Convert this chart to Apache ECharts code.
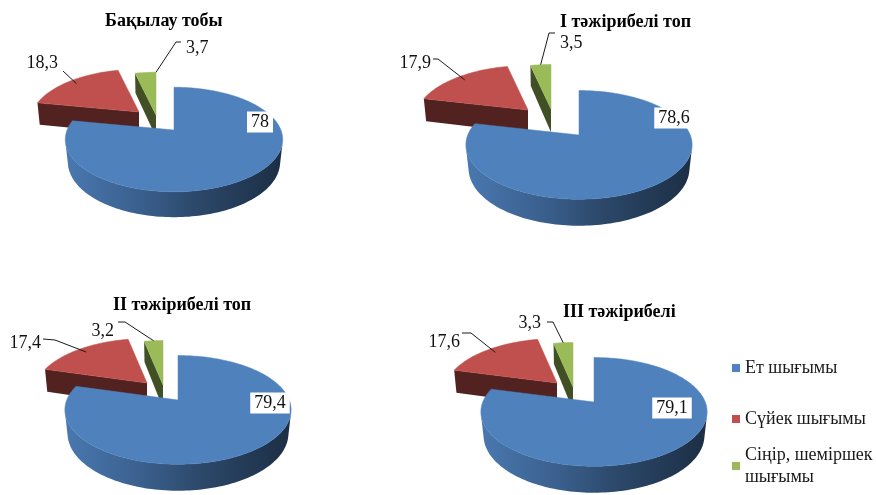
<!DOCTYPE html>
<html>
<head>
<meta charset="utf-8">
<script src="https://cdn.jsdelivr.net/npm/echarts@6/dist/echarts.min.js"></script>
<style>
  html, body { margin: 0; padding: 0; background: #fff; }
  #chart { width: 876px; height: 495px; }
</style>
</head>
<body>
<div id="chart"></div>
<script>
// Carcass composition by group, %
const groups = ['Бақылау тобы', 'І тәжірибелі топ', 'ІІ тәжірибелі топ', 'ІІІ тәжірибелі'];
const categories = ['Ет шығымы', 'Сүйек шығымы', 'Сіңір, шеміршек шығымы'];
const meatYield   = [78, 78.6, 79.4, 79.1];
const boneYield   = [18.3, 17.9, 17.4, 17.6];
const tendonYield = [3.7, 3.5, 3.2, 3.3];
const seriesValues = [meatYield, boneYield, tendonYield];
const colors = ['#4F81BD', '#C0504D', '#9BBB59'];

// Camera for the tilted 3D pies (unit radius disc, perspective projection)
const VIEW = { f: 529, D: 4.85, elev: 28.2 * Math.PI / 180, thick: 0.243 };
const SIN_E = Math.sin(VIEW.elev), COS_E = Math.cos(VIEW.elev);

// Per-pie placement: centre, size, slice shifts (px) and label geometry (px from centre)
const pieLayout = [
  { cx: 174, cy: 130, scale: 0.98, shift: [[0, 0], [-35, -18], [-18, -15]],
    labels: [
      { at: [86, -8], boxed: true },
      { frac: 0.5, r: 0.9, path: [[-111, -59]], at: [-116, -67], align: 'right' },
      { frac: 1.0, r: 1.0, path: [[2, -88], [7, -88]], at: [12, -82], align: 'left' }
    ] },
  { cx: 579, cy: 135, scale: 1.02, shift: [[0, 0], [-51, -25], [-28, -26]],
    labels: [
      { at: [95, -17], boxed: true },
      { frac: 0.5, r: 0.9, path: [[-141, -76], [-146, -76]], at: [-148, -72], align: 'right' },
      { frac: 0.5, r: 1.0, path: [[-30, -102], [-24, -102]], at: [-19, -92], align: 'left' }
    ] },
  { cx: 178, cy: 400, scale: 1.02, shift: [[0, 0], [-31, -17], [-15, -15]],
    labels: [
      { at: [92, 3], boxed: true },
      { frac: 0.5, r: 0.9, path: [[-123, -60], [-135, -61]], at: [-137, -57], align: 'right' },
      { frac: 0.5, r: 1.0, path: [[-53, -78], [-60, -78]], at: [-64, -69], align: 'right' }
    ] },
  { cx: 594, cy: 402, scale: 1.02, shift: [[0, 0], [-37, -19], [-21, -15]],
    labels: [
      { at: [78, 6], boxed: true },
      { frac: 0.5, r: 0.9, path: [[-123, -69], [-132, -69]], at: [-134, -60], align: 'right' },
      { frac: 0.5, r: 1.0, path: [[-41, -80], [-47, -80]], at: [-53, -79], align: 'right' }
    ] }
];

const titlePos = [[105, 12], [560, 13], [113, 296], [563, 303]];

const FONT = "'Liberation Serif', 'Times New Roman', serif";

function shade(hex, k) {
  const n = parseInt(hex.slice(1), 16);
  const r = Math.min(255, Math.round(((n >> 16) & 255) * k));
  const g = Math.min(255, Math.round(((n >> 8) & 255) * k));
  const b = Math.min(255, Math.round((n & 255) * k));
  return 'rgb(' + r + ',' + g + ',' + b + ')';
}

function polyArea(pts) {
  let s = 0;
  for (let i = 0; i < pts.length; i++) {
    const a = pts[i], b = pts[(i + 1) % pts.length];
    s += a[0] * b[1] - b[0] * a[1];
  }
  return s / 2;
}

function fmt(v) { return String(v).replace('.', ','); }

function wallFill(color) {
  return new echarts.graphic.LinearGradient(0, 0, 1, 0, [
    { offset: 0, color: shade(color, 0.93) },
    { offset: 0.35, color: shade(color, 0.74) },
    { offset: 0.6, color: shade(color, 0.56) },
    { offset: 1, color: shade(color, 0.36) }
  ]);
}

function renderSlice(catIndex) {
  return function (params, api) {
    const p = params.dataIndex;
    const L = pieLayout[p];
    const value = api.value(0);
    let before = 0, total = 0;
    for (let k = 0; k < seriesValues.length; k++) {
      total += seriesValues[k][p];
      if (k < catIndex) before += seriesValues[k][p];
    }
    const a0 = before / total * Math.PI * 2;
    const a1 = (before + value) / total * Math.PI * 2;
    const ox = L.shift[catIndex][0], oy = L.shift[catIndex][1];
    const fs = VIEW.f * L.scale;
    const proj = function (r, th, y) {
      const X = r * Math.sin(th), Z = -r * Math.cos(th);
      const d = VIEW.D - (y * SIN_E + Z * COS_E);
      return [L.cx + ox + fs * X / d, L.cy + oy - fs * (y * COS_E - Z * SIN_E) / d];
    };
    const T = -VIEW.thick;
    const color = colors[catIndex];
    const children = [];
    const poly = function (pts, fill) {
      children.push({ type: 'polygon', shape: { points: pts },
        style: { fill: fill, stroke: null } });
    };

    // radial cut faces
    const cutColor = shade(color, 0.42);
    const startFace = [proj(0, 0, 0), proj(1, a0, 0), proj(1, a0, T), proj(0, 0, T)];
    if (polyArea(startFace) < -0.5) poly(startFace, cutColor);
    const endFace = [proj(0, 0, 0), proj(0, 0, T), proj(1, a1, T), proj(1, a1, 0)];
    if (polyArea(endFace) < -0.5) poly(endFace, cutColor);

    // curved outer wall, drawn as one shaded band per visible run
    const n = Math.max(2, Math.ceil((a1 - a0) / (1.5 * Math.PI / 180)));
    let run = null;
    const flush = function () {
      if (run && run.length > 1) {
        const topPts = run.map(function (t) { return proj(1, t, 0); });
        const botPts = run.map(function (t) { return proj(1, t, T); }).reverse();
        poly(topPts.concat(botPts), wallFill(color));
      }
      run = null;
    };
    for (let i = 0; i < n; i++) {
      const t0 = a0 + (a1 - a0) * i / n, t1 = a0 + (a1 - a0) * (i + 1) / n;
      const quad = [proj(1, t0, 0), proj(1, t1, 0), proj(1, t1, T), proj(1, t0, T)];
      if (polyArea(quad) < 0) {
        if (!run) run = [t0];
        run.push(t1);
      } else {
        flush();
      }
    }
    flush();

    // top face
    const top = [proj(0, 0, 0)];
    for (let i = 0; i <= n; i++) top.push(proj(1, a0 + (a1 - a0) * i / n, 0));
    children.push({ type: 'polygon', shape: { points: top },
      style: { fill: color, stroke: color, lineWidth: 0.5 } });

    // value label
    const lab = L.labels[catIndex];
    const tx = L.cx + lab.at[0], ty = L.cy + lab.at[1];
    if (lab.path) {
      const pts = [proj(lab.r, a0 + (a1 - a0) * lab.frac, 0)];
      lab.path.forEach(function (q) { pts.push([L.cx + q[0], L.cy + q[1]]); });
      children.push({ type: 'polyline', shape: { points: pts },
        style: { stroke: '#1a1a1a', fill: null, lineWidth: 1 } });
    }
    children.push({ type: 'text', z2: 10,
      style: { text: fmt(value), x: tx, y: ty,
        align: lab.align || 'center', verticalAlign: 'middle',
        font: "18px 'Liberation Serif', serif", fill: '#111',
        backgroundColor: lab.boxed ? '#fff' : null,
        padding: lab.boxed ? [2, 4, 1, 4] : 0 } });

    return { type: 'group', children: children };
  };
}

const legendText = { fontFamily: FONT, fontSize: 18, color: '#1a1a1a', lineHeight: 22 };

const option = {
  animation: false,
  backgroundColor: '#fff',
  title: groups.map(function (g, i) {
    return { text: g, left: titlePos[i][0], top: titlePos[i][1], padding: 0,
      textStyle: { fontFamily: FONT, fontSize: 18, fontWeight: 'bold', color: '#000' } };
  }),
  legend: [
    { data: [categories[0], categories[1]], orient: 'vertical', left: 732, top: 357,
      padding: 0, itemWidth: 8, itemHeight: 8, itemGap: 29, icon: 'rect',
      textStyle: legendText },
    { data: [categories[2]], orient: 'vertical', left: 732, top: 433,
      padding: 0, itemWidth: 8, itemHeight: 8, icon: 'rect',
      formatter: function (name) { return name.replace('шеміршек ', 'шеміршек\n'); },
      textStyle: Object.assign({}, legendText, { padding: [22, 0, 0, 0] }) }
  ],
  series: [2, 1, 0].map(function (i) {
    return {
      type: 'custom',
      name: categories[i],
      coordinateSystem: 'none',
      renderItem: renderSlice(i),
      itemStyle: { color: colors[i] },
      z: 4 - i,
      data: seriesValues[i].map(function (v) { return [v]; })
    };
  })
};

const chart = echarts.init(document.getElementById('chart'), null, { renderer: 'canvas' });
chart.setOption(option);
</script>
</body>
</html>
